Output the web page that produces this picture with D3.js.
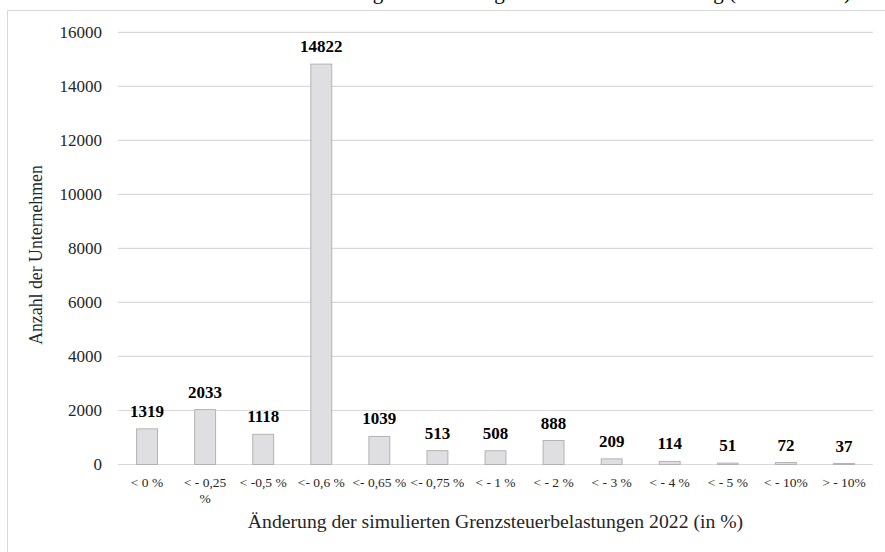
<!DOCTYPE html>
<html lang="de">
<head>
<meta charset="UTF-8">
<title>Grenzsteuerbelastungen 2022</title>
<script src="https://d3js.org/d3.v7.min.js"></script>
<style>
    body { margin: 0; background: #fff; }
    svg { display: block; font-family: "Liberation Serif", "Times New Roman", serif; }
</style>
</head>
<body>
<svg width="885" height="552"></svg>
<script>
    // data
    const categories = ["< 0 %", "< - 0,25 %", "< -0,5 %", "<- 0,6 %", "<- 0,65 %", "<- 0,75 %",
        "< - 1 %", "< - 2 %", "< - 3 %", "< - 4 %", "< - 5 %", "< - 10%", "> - 10%"];
    const counts = [1319, 2033, 1118, 14822, 1039, 513, 508, 888, 209, 114, 51, 72, 37];
    const yTicks = [0, 2000, 4000, 6000, 8000, 10000, 12000, 14000, 16000];

    const svg = d3.select("svg");
    const plotLeft = 118, plotRight = 873, plotTop = 32.3, plotBottom = 464.5;

    // outer frame (runs past the right and bottom edge)
    svg.append("rect")
        .attr("x", 7.5).attr("y", 10.5)
        .attr("width", 900).attr("height", 600)
        .attr("fill", "none").attr("stroke", "#d9d9d9");

    // title, cut off at the top of the page like in the original
    svg.append("text")
        .attr("x", 851).attr("y", -0.8)
        .attr("text-anchor", "end")
        .attr("font-size", "21px")
        .attr("fill", "#000")
        .text("Verteilung der Änderung der Grenzsteuerbelastung (Anzahl 2022)");

    const x = d3.scaleBand()
        .domain(categories)
        .range([plotLeft, plotRight])
        .paddingInner(0.64)
        .paddingOuter(0.32);

    const y = d3.scaleLinear()
        .domain([0, 16000])
        .range([plotBottom, plotTop]);

    // grid lines
    svg.append("g")
        .selectAll("line")
        .data(yTicks)
        .enter()
        .append("line")
        .attr("x1", plotLeft).attr("x2", plotRight)
        .attr("y1", d => y(d)).attr("y2", d => y(d))
        .attr("stroke", "#d9d9d9")
        .attr("stroke-width", 1.2);

    // y axis labels
    const yAxis = svg.append("g")
        .attr("transform", `translate(${plotLeft - 16},0)`)
        .call(d3.axisLeft(y).tickValues(yTicks).tickFormat(d3.format("d")).tickSize(0).tickPadding(0));
    yAxis.select(".domain").remove();
    yAxis.selectAll("text")
        .attr("font-family", "Liberation Serif")
        .attr("font-size", "17px")
        .attr("fill", "#262626");

    // bars
    svg.append("g")
        .selectAll("rect")
        .data(counts)
        .enter()
        .append("rect")
        .attr("x", (d, i) => x(categories[i]))
        .attr("y", d => y(d))
        .attr("width", x.bandwidth())
        .attr("height", d => y(0) - y(d))
        .attr("fill", "#dfdfe1")
        .attr("stroke", "#b3b3b3")
        .attr("stroke-width", 1);

    // value labels
    svg.append("g")
        .selectAll("text")
        .data(counts)
        .enter()
        .append("text")
        .attr("x", (d, i) => x(categories[i]) + x.bandwidth() / 2)
        .attr("y", d => y(d) - 12)
        .attr("text-anchor", "middle")
        .attr("font-size", "17px")
        .attr("font-weight", "bold")
        .attr("fill", "#000")
        .text(d => d);

    // x axis labels, wrapped when wider than one band
    const xAxis = svg.append("g")
        .attr("transform", `translate(0,${plotBottom})`)
        .call(d3.axisBottom(x).tickSize(0).tickPadding(0));
    xAxis.select(".domain").remove();
    xAxis.selectAll("text")
        .attr("font-family", "Liberation Serif")
        .attr("font-size", "13.5px")
        .attr("fill", "#262626")
        .attr("dy", null)
        .attr("y", 22.5)
        .each(function (d) {
            const t = d3.select(this);
            if (this.getComputedTextLength() > x.step() - 2) {
                const cut = d.lastIndexOf(" ");
                t.text(null);
                t.append("tspan").attr("x", 0).attr("y", 22.5).text(d.slice(0, cut));
                t.append("tspan").attr("x", 0).attr("y", 38.5).text(d.slice(cut + 1));
            }
        });

    // axis titles
    svg.append("text")
        .attr("x", (plotLeft + plotRight) / 2).attr("y", 528)
        .attr("text-anchor", "middle")
        .attr("font-size", "19.7px")
        .attr("fill", "#262626")
        .text("Änderung der simulierten Grenzsteuerbelastungen 2022 (in %)");

    svg.append("text")
        .attr("transform", "translate(41.5,255) rotate(-90)")
        .attr("text-anchor", "middle")
        .attr("font-size", "17.8px")
        .attr("fill", "#262626")
        .text("Anzahl der Unternehmen");
</script>
</body>
</html>
